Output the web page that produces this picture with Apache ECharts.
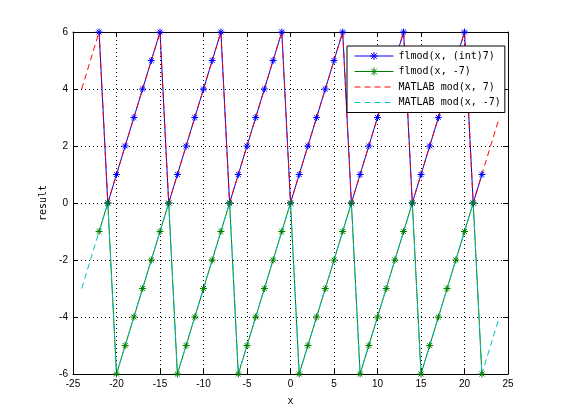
<!DOCTYPE html>
<html>
<head>
<meta charset="utf-8">
<script src="https://cdn.jsdelivr.net/npm/echarts@6/dist/echarts.min.js"></script>
<style>
html,body{margin:0;padding:0;background:#fff;}
#c{width:561px;height:420px;}
</style>
</head>
<body>
<div id="c"></div>
<script>
// x values
var xInt = [-22,-21,-20,-19,-18,-17,-16,-15,-14,-13,-12,-11,-10,-9,-8,-7,-6,-5,-4,-3,-2,-1,0,1,2,3,4,5,6,7,8,9,10,11,12,13,14,15,16,17,18,19,20,21,22];
var xCont = [-24,-23,-22,-21,-20,-19,-18,-17,-16,-15,-14,-13,-12,-11,-10,-9,-8,-7,-6,-5,-4,-3,-2,-1,0,1,2,3,4,5,6,7,8,9,10,11,12,13,14,15,16,17,18,19,20,21,22,23,24];
// series values
var flmodPos = [6,0,1,2,3,4,5,6,0,1,2,3,4,5,6,0,1,2,3,4,5,6,0,1,2,3,4,5,6,0,1,2,3,4,5,6,0,1,2,3,4,5,6,0,1];
var flmodNeg = [-1,0,-6,-5,-4,-3,-2,-1,0,-6,-5,-4,-3,-2,-1,0,-6,-5,-4,-3,-2,-1,0,-6,-5,-4,-3,-2,-1,0,-6,-5,-4,-3,-2,-1,0,-6,-5,-4,-3,-2,-1,0,-6];
var modPos = [4,5,6,0,1,2,3,4,5,6,0,1,2,3,4,5,6,0,1,2,3,4,5,6,0,1,2,3,4,5,6,0,1,2,3,4,5,6,0,1,2,3,4,5,6,0,1,2,3];
var modNeg = [-3,-2,-1,0,-6,-5,-4,-3,-2,-1,0,-6,-5,-4,-3,-2,-1,0,-6,-5,-4,-3,-2,-1,0,-6,-5,-4,-3,-2,-1,0,-6,-5,-4,-3,-2,-1,0,-6,-5,-4,-3,-2,-1,0,-6,-5,-4];
var seriesNames = ['flmod(x, (int)7)', 'flmod(x, -7)', 'MATLAB mod(x, 7)', 'MATLAB mod(x, -7)'];
var xTicks = {min: -25, max: 25, step: 5};
var yTicks = {min: -6, max: 6, step: 2};

function pairs(xs, ys) { return xs.map(function (x, i) { return [x, ys[i]]; }); }

var star = 'path://M0,-10L0,10M-10,0L10,0M-7,-7L7,7M-7,7L7,-7';
var mono = 'DejaVu Sans Mono';
var sans = 'Liberation Sans';

var chart = echarts.init(document.getElementById('c'), null, {renderer: 'canvas'});

function axisBase(show) {
  return {
    axisLine: {show: true, onZero: false, lineStyle: {color: '#000', width: 1}},
    axisTick: {show: true, inside: true, length: 5, lineStyle: {color: '#000'}},
    axisLabel: {show: show, color: '#000', fontFamily: sans, fontSize: 10},
    splitLine: {show: false}
  };
}

var xBottom = Object.assign(axisBase(true), {
  type: 'value', position: 'bottom', min: xTicks.min, max: xTicks.max, interval: xTicks.step,
  name: 'x', nameLocation: 'middle', nameGap: 22,
  nameTextStyle: {fontFamily: mono, fontSize: 10, color: '#000'},
  splitLine: {show: true, lineStyle: {color: '#000', type: [1, 3], width: 1}}
});
xBottom.axisLabel.margin = 5;
var xTop = Object.assign(axisBase(false), {
  type: 'value', position: 'top', min: xTicks.min, max: xTicks.max, interval: xTicks.step
});
var yLeft = Object.assign(axisBase(true), {
  type: 'value', position: 'left', min: yTicks.min, max: yTicks.max, interval: yTicks.step,
  name: 'result', nameLocation: 'middle', nameGap: 24,
  nameTextStyle: {fontFamily: mono, fontSize: 10, color: '#000'},
  splitLine: {show: true, lineStyle: {color: '#000', type: [1, 3], width: 1}}
});
yLeft.axisLabel.margin = 5;
var yRight = Object.assign(axisBase(false), {
  type: 'value', position: 'right', min: yTicks.min, max: yTicks.max, interval: yTicks.step
});

var option = {
  backgroundColor: '#fff',
  animation: false,
  grid: {left: 73, top: 32, right: 53, bottom: 46, containLabel: false},
  xAxis: [xBottom, xTop],
  yAxis: [yLeft, yRight],
  legend: {
    orient: 'vertical', left: 347, top: 46,
    backgroundColor: '#fff', borderColor: '#000', borderWidth: 1, borderRadius: 0,
    padding: [5, 4, 5, 7],
    itemWidth: 39, itemHeight: 10, itemGap: 5.5,
    lineStyle: {width: 1},
    itemStyle: {borderWidth: 1},
    textStyle: {fontFamily: mono, fontSize: 10, color: '#000'},
    data: [
      {name: seriesNames[0]},
      {name: seriesNames[1]},
      {name: seriesNames[2], itemStyle: {opacity: 0}},
      {name: seriesNames[3], itemStyle: {opacity: 0}}
    ]
  },
  series: [
    {
      name: seriesNames[0], type: 'line', data: pairs(xInt, flmodPos),
      xAxisIndex: 0, yAxisIndex: 0,
      symbol: star, symbolSize: 7, showSymbol: true,
      lineStyle: {color: '#0000ff', width: 1},
      itemStyle: {color: '#0000ff', borderColor: '#0000ff', borderWidth: 1}
    },
    {
      name: seriesNames[1], type: 'line', data: pairs(xInt, flmodNeg),
      xAxisIndex: 0, yAxisIndex: 0,
      symbol: star, symbolSize: 7, showSymbol: true,
      lineStyle: {color: '#008000', width: 1},
      itemStyle: {color: '#008000', borderColor: '#008000', borderWidth: 1}
    },
    {
      name: seriesNames[2], type: 'line', data: pairs(xCont, modPos),
      xAxisIndex: 0, yAxisIndex: 0,
      symbol: 'none',
      lineStyle: {color: '#ff0000', width: 1, type: [6, 4]},
      itemStyle: {color: '#ff0000'}
    },
    {
      name: seriesNames[3], type: 'line', data: pairs(xCont, modNeg),
      xAxisIndex: 0, yAxisIndex: 0,
      symbol: 'none',
      lineStyle: {color: '#00bfbf', width: 1, type: [6, 4]},
      itemStyle: {color: '#00bfbf'}
    }
  ]
};
chart.setOption(option);
</script>
</body>
</html>
